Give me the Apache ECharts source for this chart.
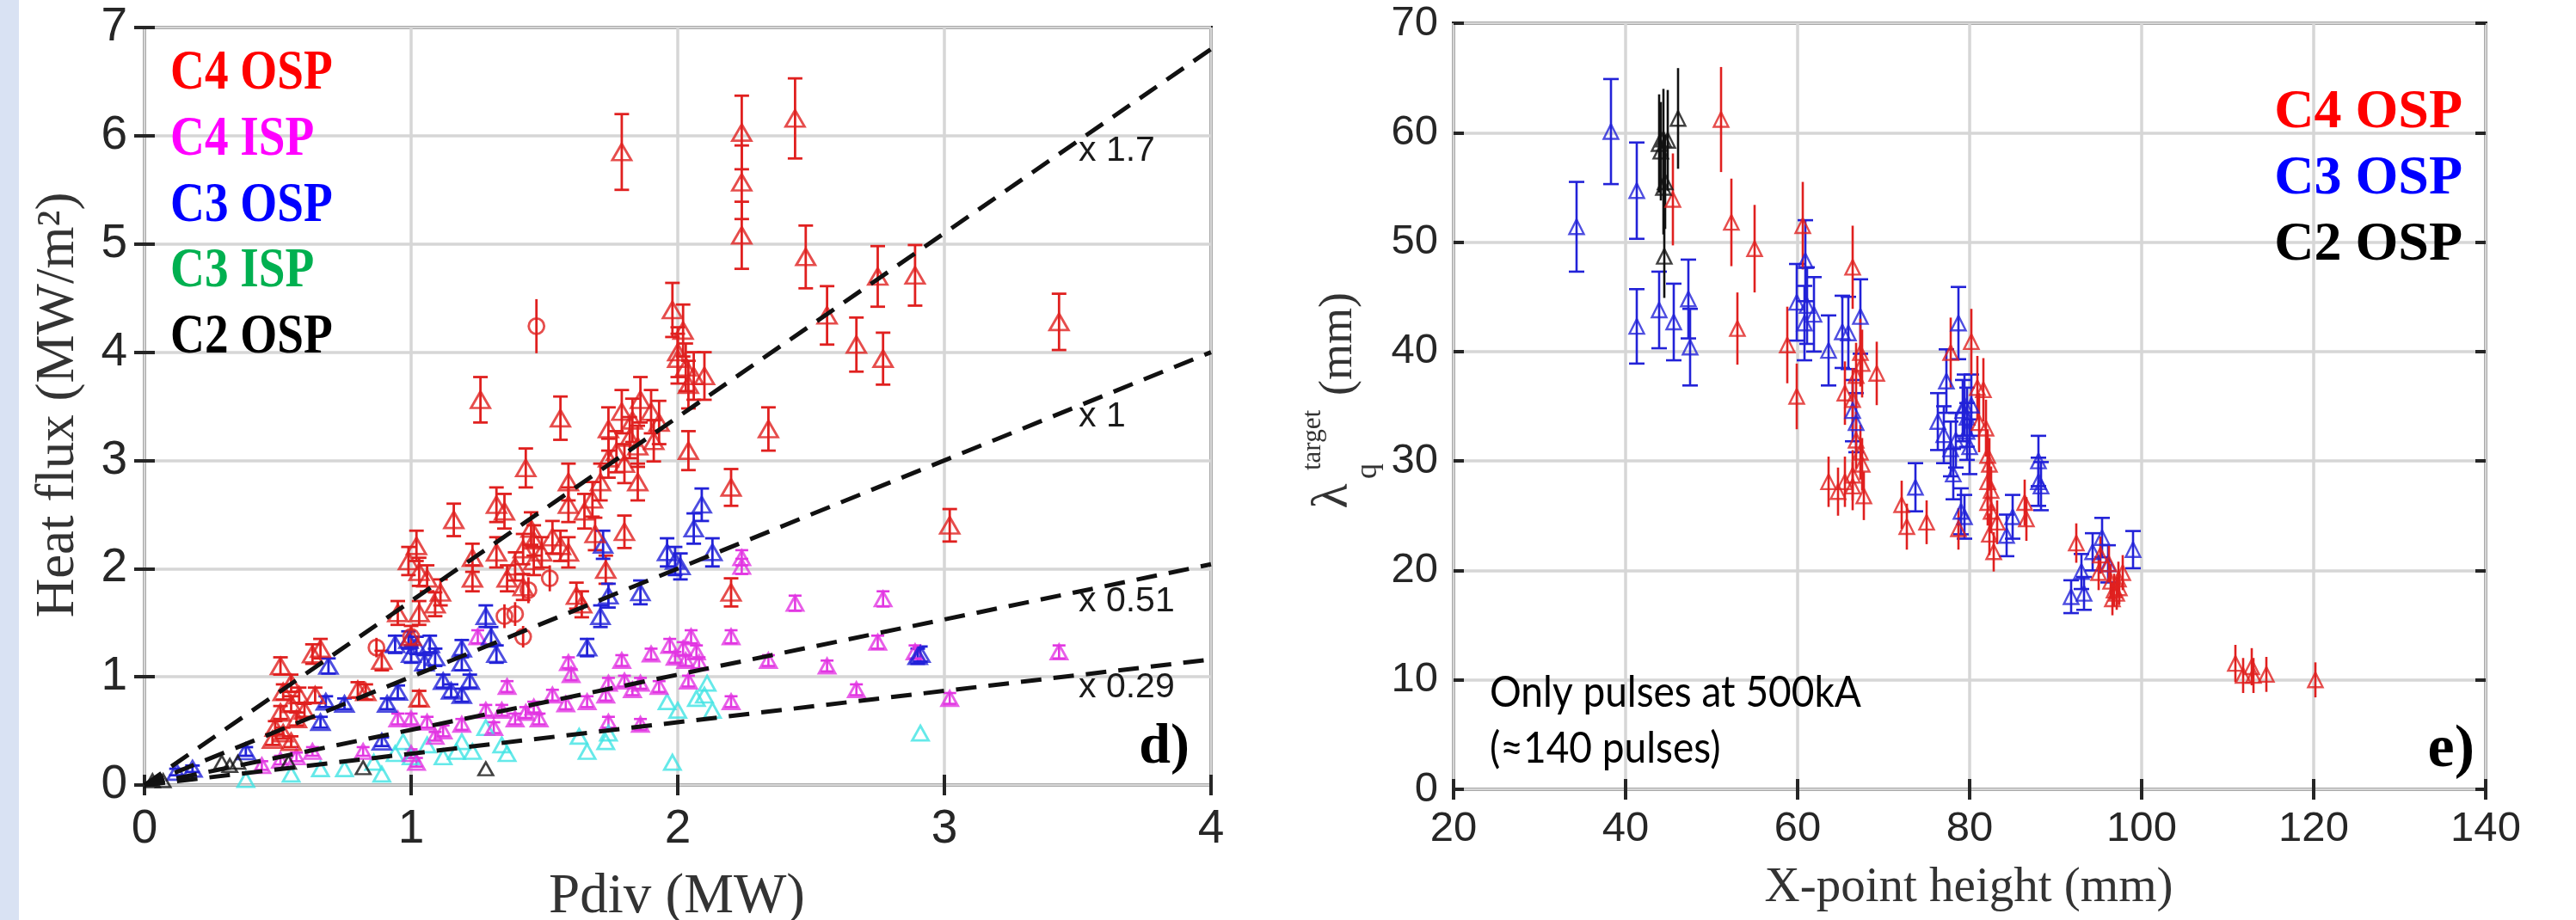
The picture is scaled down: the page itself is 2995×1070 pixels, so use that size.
<!DOCTYPE html>
<html>
<head>
<meta charset="utf-8">
<script src="https://cdn.jsdelivr.net/npm/echarts@6/dist/echarts.min.js"></script>
<style>
html,body{margin:0;padding:0;background:#fff;}
#chart{width:2995px;height:1070px;}
</style>
</head>
<body>
<div id="chart"></div>
<script>
// ---------------- DATA (left panel: Heat flux vs Pdiv) [x, y, error] ----------------
const leftC4OSP = [
[1.79,5.85,0.35],[2.24,6.03,0.34],[2.24,5.57,0.34],[2.24,5.08,0.31],[2.44,6.16,0.37],[2.48,4.88,0.29],
[2.56,4.34,0.27],[2.67,4.07,0.25],[2.75,4.70,0.28],[2.77,3.94,0.24],[2.89,4.71,0.28],[3.43,4.28,0.26],
[3.02,2.40,0.15],[2.34,3.29,0.20],[2.20,2.75,0.17],[2.20,1.78,0.13],[2.04,3.09,0.18],[1.98,4.39,0.25],
[2.02,4.20,0.24],[2.00,4.00,0.23],[2.00,3.94,0.23],[2.03,3.86,0.22],[2.06,3.78,0.22],[2.10,3.78,0.22],
[2.04,3.70,0.22],[1.74,3.29,0.20],[1.79,3.45,0.20],[1.83,3.37,0.20],[1.86,3.56,0.21],[1.90,3.45,0.20],
[1.93,3.35,0.20],[1.82,3.21,0.19],[1.77,3.08,0.19],[1.85,3.13,0.19],[1.91,3.18,0.19],[1.74,3.02,0.18],
[1.80,2.97,0.18],[1.85,2.80,0.17],[1.71,2.80,0.17],[1.68,2.64,0.16],[1.65,2.53,0.16],[1.59,2.80,0.17],
[1.59,2.59,0.16],[1.69,2.32,0.15],[1.73,1.99,0.13],[1.80,2.34,0.15],[1.62,1.75,0.12],[1.64,1.67,0.12],
[1.43,2.93,0.18],[1.56,3.39,0.20],[1.26,3.56,0.21],[1.16,2.45,0.15],[1.32,2.59,0.16],[1.35,2.53,0.16],
[1.45,2.37,0.15],[1.46,2.26,0.14],[1.42,2.18,0.14],[1.49,2.15,0.14],[1.46,2.07,0.13],[1.53,2.29,0.15],
[1.56,2.21,0.14],[1.59,2.15,0.14],[1.39,2.02,0.13],[1.36,1.91,0.12],[1.42,1.83,0.12],[1.23,2.10,0.13],
[1.23,1.91,0.12],[1.32,2.15,0.14],[1.02,2.21,0.14],[0.99,2.07,0.13],[1.03,1.97,0.13],[1.06,1.91,0.12],
[1.11,1.78,0.12],[1.09,1.67,0.11],[0.95,1.59,0.11],[1.03,1.59,0.11],[1.00,1.37,0.10],[1.03,0.80,0.07],
[0.83,0.86,0.07],[0.80,0.88,0.07],[0.89,1.15,0.09],[0.66,1.26,0.09],[0.63,1.21,0.09],[0.51,1.10,0.08],
[0.55,0.94,0.08],[0.52,0.86,0.07],[0.58,0.83,0.07],[0.64,0.83,0.07],[0.55,0.75,0.07],[0.51,0.67,0.06],
[0.49,0.53,0.06],[0.52,0.48,0.05],[0.48,0.42,0.05],[0.55,0.40,0.05],[0.60,0.69,0.06],[0.57,0.61,0.06]
];
const leftC4OSPcircles = [
[1.47,4.24,0.25],[1.44,1.80,0.12],[1.39,1.58,0.11],[1.35,1.56,0.11],[1.42,1.37,0.10],[0.87,1.27,0.09],
[1.52,1.91,0.12],[1.00,1.37,0.10]
];
const leftC4ISP = [
[2.24,2.02,0.07],[2.24,2.10,0.07],[2.44,1.68,0.07],[2.77,1.72,0.07],[2.20,1.37,0.06],[2.34,1.15,0.05],
[2.56,1.10,0.05],[2.75,1.32,0.06],[2.67,0.88,0.05],[3.02,0.80,0.05],[3.43,1.23,0.06],[2.89,1.23,0.06],
[2.20,0.77,0.05],[2.04,0.96,0.05],[2.05,1.37,0.06],[1.97,1.29,0.06],[2.02,1.26,0.06],[2.07,1.23,0.06],
[1.99,1.18,0.05],[2.03,1.15,0.05],[2.08,1.13,0.05],[1.90,1.21,0.05],[1.79,1.15,0.05],[1.80,0.96,0.05],
[1.86,0.94,0.05],[1.83,0.88,0.05],[1.93,0.91,0.05],[1.74,0.94,0.05],[1.73,0.83,0.05],[1.66,0.77,0.05],
[1.59,1.13,0.05],[1.60,1.02,0.05],[1.58,0.75,0.05],[1.53,0.83,0.05],[1.46,0.72,0.05],[1.43,0.67,0.05],
[1.39,0.61,0.05],[1.48,0.61,0.05],[1.34,0.69,0.05],[1.31,0.53,0.05],[1.36,0.91,0.05],[1.25,1.37,0.06],
[1.28,0.69,0.05],[1.19,0.56,0.05],[1.12,0.50,0.05],[1.06,0.58,0.05],[1.00,0.61,0.05],[0.95,0.61,0.05],
[1.02,0.21,0.04],[1.00,0.29,0.04],[1.09,0.45,0.04],[0.82,0.31,0.04],[0.63,0.31,0.04],[0.57,0.26,0.04],
[0.51,0.23,0.04],[0.44,0.18,0.04],[1.86,0.56,0.05],[1.74,0.58,0.05]
];
const leftC3OSP = [
[2.09,2.59,0.15],[2.06,2.37,0.14],[2.13,2.15,0.13],[1.96,2.15,0.13],[1.99,2.07,0.13],[2.01,2.02,0.12],
[1.86,1.78,0.11],[1.71,1.56,0.10],[1.74,1.75,0.11],[1.72,2.22,0.13],[1.66,1.27,0.08],[1.28,1.56,0.10],
[1.30,1.37,0.09],[1.32,1.21,0.08],[1.19,1.26,0.08],[1.19,1.13,0.07],[1.22,0.96,0.06],[1.12,0.96,0.06],
[1.15,0.87,0.06],[1.19,0.83,0.06],[1.09,1.18,0.08],[1.07,1.30,0.08],[1.02,1.29,0.08],[0.99,1.34,0.08],
[0.94,1.30,0.08],[1.00,1.21,0.08],[1.05,1.13,0.07],[0.95,0.86,0.06],[0.91,0.75,0.05],[0.75,0.75,0.05],
[0.68,0.77,0.05],[0.69,1.10,0.07],[0.66,0.58,0.05],[0.38,0.31,0.04],[0.18,0.15,0.03],[0.12,0.12,0.03],
[0.89,0.40,0.04],[2.91,1.21,0.07],[2.90,1.19,0.07]
];
const leftC3ISP = [
[2.11,0.94],[2.10,0.83],[2.07,0.80],[2.13,0.69],[2.00,0.69],[1.96,0.77],[1.98,0.21],[2.91,0.48],
[1.74,0.48],[1.73,0.40],[1.66,0.31],[1.63,0.45],[1.36,0.29],[1.34,0.37],[1.28,0.53],[1.23,0.31],
[1.17,0.31],[1.12,0.26],[1.06,0.37],[1.00,0.26],[0.94,0.29],[0.89,0.10],[0.86,0.21],[0.75,0.15],
[0.66,0.15],[0.55,0.10],[0.38,0.05],[1.19,0.40],[0.97,0.40]
];
const leftC2OSP = [
[1.28,0.15],[0.82,0.16],[0.54,0.21],[0.35,0.21],[0.32,0.18],[0.29,0.21],[0.03,0.04],[0.07,0.04]
];
const fitSlopes = [1.7, 1, 0.51, 0.29];
const fitLabels = ['x 1.7', 'x 1', 'x 0.51', 'x 0.29'];

// ---------------- DATA (right panel: lambda_q vs X-point height) [x, y, error] ----------------
const rightC3OSP = [
[34.3,51.4,4.1],[38.3,60.1,4.8],[41.3,54.7,4.4],[41.3,42.3,3.4],[43.9,43.8,3.5],[45.6,42.7,3.5],
[47.3,44.8,3.6],[47.5,40.4,3.5],[59.9,44.5,3.5],[60.9,48.3,3.7],[60.8,42.6,3.4],[61.1,44.2,3.5],
[61.9,43.4,3.4],[63.6,40.1,3.2],[65.2,41.8,3.3],[65.9,41.7,3.3],[66.4,34.6,2.8],[66.8,33.5,2.7],
[67.3,43.2,3.4],[73.7,27.6,2.2],[76.3,33.6,2.6],[77.0,32.4,2.6],[77.3,37.3,2.9],[77.8,31.1,2.5],
[78.1,28.8,2.3],[78.4,31.9,2.5],[78.7,42.6,3.3],[79.2,34.6,2.8],[79.4,35.1,2.8],[79.7,34.0,2.7],
[79.7,32.7,2.6],[79.0,25.4,2.1],[79.4,24.9,2.0],[80.0,31.3,2.5],[80.2,35.1,2.8],[84.3,23.2,1.9],
[85.0,24.9,2.0],[88.0,30.0,2.3],[88.0,28.1,2.2],[88.3,27.7,2.2],[91.8,17.6,1.5],[93.0,19.9,1.6],
[93.3,17.9,1.5],[94.3,21.7,1.7],[95.4,23.0,1.8],[96.1,20.6,1.7],[99.0,21.9,1.7]
];
const rightC4OSP = [
[51.1,61.2,4.8],[45.5,53.9,4.2],[52.3,51.8,4.0],[55.0,49.4,4.0],[53.0,42.1,3.3],[58.8,40.6,3.5],
[59.9,35.9,3.0],[60.6,51.5,4.0],[66.4,47.7,3.8],[65.5,36.2,2.9],[66.4,35.6,2.9],[67.3,39.9,3.1],
[67.5,38.9,3.1],[66.8,37.8,3.0],[69.2,38.0,2.9],[66.8,31.9,2.6],[67.3,30.8,2.5],[67.5,29.7,2.4],
[66.4,28.7,2.3],[63.6,28.1,2.3],[64.7,27.2,2.2],[65.5,28.1,2.3],[66.4,27.7,2.2],[67.7,26.8,2.2],
[72.1,26.0,2.2],[72.7,24.0,2.1],[75.0,24.4,2.0],[77.8,39.9,3.2],[80.2,40.9,3.0],[78.7,23.8,1.9],
[80.9,36.7,2.9],[81.6,36.5,2.9],[81.1,33.5,2.7],[81.9,33.0,2.6],[82.1,30.5,2.4],[82.3,29.7,2.4],
[82.1,28.1,2.3],[82.5,27.3,2.2],[82.1,26.2,2.1],[82.5,25.4,2.0],[82.3,23.3,1.9],[82.8,21.7,1.8],
[83.2,24.4,2.0],[86.4,26.2,2.1],[86.6,24.7,2.0],[92.4,22.5,1.8],[95.2,21.4,1.7],[95.0,19.8,1.6],
[96.2,20.6,1.7],[96.4,19.0,1.6],[96.8,18.2,1.5],[97.3,19.2,1.6],[96.6,17.4,1.5],[97.4,18.4,1.5],
[97.8,19.8,1.6],[97.1,17.9,1.5],[110.9,11.5,1.7],[111.8,10.4,1.6],[112.8,11.2,1.7],[113.0,10.4,1.6],
[114.5,10.5,1.6],[120.2,10.0,1.6]
];
const rightC2OSP = [
[43.9,59.0,4.5],[44.4,59.4,4.6],[44.9,59.3,4.6],[44.6,55.5,4.3],[44.4,55.0,4.3],[44.5,48.7,3.8],
[46.1,61.3,4.6],[44.1,58.3,4.5]
];

// ---------------- STYLE ----------------
const SANS = '"Liberation Sans", Arial, sans-serif';
const SERIF = '"Liberation Serif", "Times New Roman", serif';
const AX = '#262626';
const RED = '#e0201f', MAG = '#e236e2', BLUE = '#2222d8', CYAN = '#3fe3e3', BLK = '#111111';

function errRender(cap, color, lw) {
  return function (params, api) {
    const x = api.value(0), y = api.value(1), e = api.value(2);
    const p1 = api.coord([x, y + e]);
    const p2 = api.coord([x, y - e]);
    const st = { stroke: color, lineWidth: lw };
    const ch = [{ type: 'line', shape: { x1: p1[0], y1: p1[1], x2: p2[0], y2: p2[1] }, style: st }];
    if (cap > 0) {
      ch.push({ type: 'line', shape: { x1: p1[0] - cap / 2, y1: p1[1], x2: p1[0] + cap / 2, y2: p1[1] }, style: st });
      ch.push({ type: 'line', shape: { x1: p2[0] - cap / 2, y1: p2[1], x2: p2[0] + cap / 2, y2: p2[1] }, style: st });
    }
    return { type: 'group', children: ch };
  };
}
function errSeries(data, xi, cap, color, lw) {
  return { type: 'custom', xAxisIndex: xi, yAxisIndex: xi, data: data, encode: { x: 0, y: 1 },
    renderItem: errRender(cap, color, lw), silent: true, z: 3, clip: true };
}
function markSeries(data, xi, symbol, size, color, bw) {
  return { type: 'scatter', xAxisIndex: xi, yAxisIndex: xi, data: data.map(d => [d[0], d[1]]),
    symbol: symbol, symbolSize: size, z: 4, silent: true,
    itemStyle: { color: 'rgba(0,0,0,0)', borderColor: color, borderWidth: bw } };
}
function mainX(grid, min, max, interval, fs, margin) {
  return { type: 'value', gridIndex: grid, position: 'bottom', min: min, max: max, interval: interval,
    axisLine: { show: false },
    axisTick: { show: true, inside: true, length: 12, lineStyle: { color: AX, width: 4 } },
    axisLabel: { show: true, fontFamily: SANS, fontSize: fs, color: AX, margin: margin },
    splitLine: { show: true, lineStyle: { color: '#d6d6d6', width: 3.5 } } };
}
function mirrorX(grid, min, max, interval) {
  return { type: 'value', gridIndex: grid, position: 'top', min: min, max: max, interval: interval,
    axisLine: { show: false }, axisLabel: { show: false }, splitLine: { show: false },
    axisTick: { show: true, inside: true, length: 12, lineStyle: { color: AX, width: 4 } } };
}
function mainY(grid, min, max, interval, fs, margin) {
  return { type: 'value', gridIndex: grid, position: 'left', min: min, max: max, interval: interval,
    axisLine: { show: false },
    axisTick: { show: true, inside: true, length: 12, lineStyle: { color: AX, width: 4 } },
    axisLabel: { show: true, fontFamily: SANS, fontSize: fs, color: AX, margin: margin },
    splitLine: { show: true, lineStyle: { color: '#d6d6d6', width: 3.5 } } };
}
function mirrorY(grid, min, max, interval) {
  return { type: 'value', gridIndex: grid, position: 'right', min: min, max: max, interval: interval,
    axisLine: { show: false }, axisLabel: { show: false }, splitLine: { show: false },
    axisTick: { show: true, inside: true, length: 12, lineStyle: { color: AX, width: 4 } } };
}

const series = [];
// left panel
series.push(errSeries(leftC4OSP, 0, 17, RED, 2.8));
series.push(errSeries(leftC4OSPcircles, 0, 0, RED, 2.8));
series.push(errSeries(leftC3OSP, 0, 17, BLUE, 2.8));
series.push(errSeries(leftC4ISP, 0, 15, MAG, 2.6));
series.push(markSeries(leftC3ISP, 0, 'triangle', [19, 17], CYAN, 2.8));
series.push(markSeries(leftC4ISP, 0, 'triangle', [19, 17], MAG, 2.8));
series.push(markSeries(leftC3OSP, 0, 'triangle', [21, 18], BLUE, 2.8));
series.push(markSeries(leftC2OSP, 0, 'triangle', [17, 15], BLK, 2.6));
series.push(markSeries(leftC4OSP, 0, 'triangle', [22, 19], RED, 2.8));
series.push(markSeries(leftC4OSPcircles, 0, 'circle', 18, RED, 2.8));
fitSlopes.forEach(k => {
  series.push({ type: 'line', xAxisIndex: 0, yAxisIndex: 0, data: [[0, 0], [4, 4 * k]], symbol: 'none',
    silent: true, z: 6, lineStyle: { color: '#111', width: 5, type: [24, 14] } });
});
// right panel
series.push(errSeries(rightC3OSP, 2, 18, BLUE, 2.6));
series.push(errSeries(rightC4OSP, 2, 0, RED, 2.6));
series.push(errSeries(rightC2OSP, 2, 0, BLK, 2.6));
series.push(markSeries(rightC3OSP, 2, 'triangle', [17, 17], BLUE, 2.4));
series.push(markSeries(rightC4OSP, 2, 'triangle', [17, 17], RED, 2.4));
series.push(markSeries(rightC2OSP, 2, 'triangle', [17, 17], BLK, 2.4));

// fit-line label positions (pixels)
const fitLabelY = [176, 485, 700, 800];

function txt(text, x, y, font, fill, align, extra) {
  return Object.assign({ type: 'text', x: x, y: y, silent: true, z: 100,
    style: { text: text, font: font, fill: fill, textAlign: align || 'left', textVerticalAlign: 'middle' } }, extra || {});
}
const graphics = [
  { type: 'rect', shape: { x: 0, y: 0, width: 22, height: 1070 }, style: { fill: '#d9e2f3' }, silent: true, z: 0 },
  // axis titles
  txt('Heat flux (MW/m²)', 68, 471, '63px ' + SERIF, '#333', 'center', { rotation: Math.PI / 2 }),
  txt('Pdiv (MW)', 787, 1044, '65px ' + SERIF, '#333', 'center'),
  txt('X-point height (mm)', 2289, 1033, '57px ' + SERIF, '#333', 'center'),
  txt('λ', 1550, 577, '60px ' + SERIF, '#333', 'center', { rotation: Math.PI / 2 }),
  txt('q', 1591, 548, '36px ' + SERIF, '#333', 'center', { rotation: Math.PI / 2 }),
  txt('target', 1527, 512, '31px ' + SERIF, '#333', 'center', { rotation: Math.PI / 2 }),
  txt('(mm)', 1557, 400, '54px ' + SERIF, '#333', 'center', { rotation: Math.PI / 2 }),
  // left legend
  txt('C4 OSP', 198, 86, 'bold 65px ' + SERIF, '#ff0000', 'left', { scaleX: 0.85 }),
  txt('C4 ISP', 198, 163, 'bold 65px ' + SERIF, '#ff00ff', 'left', { scaleX: 0.85 }),
  txt('C3 OSP', 198, 240, 'bold 65px ' + SERIF, '#0000ff', 'left', { scaleX: 0.85 }),
  txt('C3 ISP', 198, 316, 'bold 65px ' + SERIF, '#00b050', 'left', { scaleX: 0.85 }),
  txt('C2 OSP', 198, 393, 'bold 65px ' + SERIF, '#000000', 'left', { scaleX: 0.85 }),
  // right legend
  txt('C4 OSP', 2863, 131, 'bold 64px ' + SERIF, '#ff0000', 'right'),
  txt('C3 OSP', 2863, 208, 'bold 64px ' + SERIF, '#0000ff', 'right'),
  txt('C2 OSP', 2863, 285, 'bold 64px ' + SERIF, '#000000', 'right'),
  // panel tags
  txt('d)', 1383, 870, 'bold 66px ' + SERIF, '#000', 'right'),
  txt('e)', 2877, 873, 'bold 70px ' + SERIF, '#000', 'right'),
  // note
  txt('Only pulses at 500kA', 1732, 806, '50px Lato, "Open Sans", sans-serif', '#000', 'left', { scaleX: 0.92 }),
  txt('(≈140 pulses)', 1732, 871, '50px Lato, "Open Sans", sans-serif', '#000', 'left', { scaleX: 0.92 })
];
fitLabels.forEach((t, i) => graphics.push(txt(t, 1254, fitLabelY[i], '41px ' + SANS, '#1a1a1a', 'left')));

const option = {
  animation: false,
  backgroundColor: '#ffffff',
  grid: [
    { left: 168, top: 32, width: 1240, height: 881, show: true, borderColor: AX, borderWidth: 4, backgroundColor: '#fff', containLabel: false },
    { left: 1690, top: 27, width: 1200, height: 891, show: true, borderColor: AX, borderWidth: 4, backgroundColor: '#fff', containLabel: false }
  ],
  xAxis: [mainX(0, 0, 4, 1, 55, 24), mirrorX(0, 0, 4, 1), mainX(1, 20, 140, 20, 49, 22), mirrorX(1, 20, 140, 20)],
  yAxis: [mainY(0, 0, 7, 1, 55, 20), mirrorY(0, 0, 7, 1), mainY(1, 0, 70, 10, 49, 18), mirrorY(1, 0, 70, 10)],
  series: series,
  graphic: graphics
};
const chart = echarts.init(document.getElementById('chart'), null, { renderer: 'canvas' });
chart.setOption(option);
</script>
</body>
</html>
